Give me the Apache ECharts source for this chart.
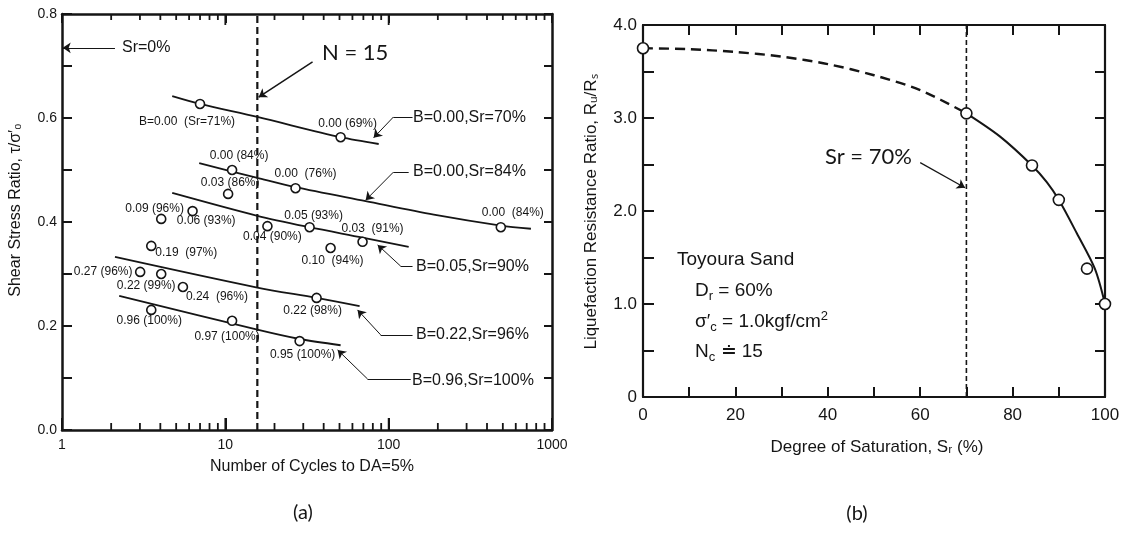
<!DOCTYPE html>
<html>
<head>
<meta charset="utf-8">
<script src="https://cdn.jsdelivr.net/npm/echarts@6/dist/echarts.min.js"></script>
<style>
  html, body { margin: 0; background: #fff; }
  #chart { width: 1123px; height: 533px; }
</style>
</head>
<body>
<div id="chart"></div>
<script>
// ---- panel (a): test points (N cycles, stress ratio) and their tags
const cycN  = [7.0, 50.8, 11.0, 26.9, 486, 10.4, 6.3, 4.05, 18.1, 32.8, 69.2, 44.1, 3.52, 3.01, 4.05, 5.5, 36.2, 3.52, 11.0, 28.5];
const ratio = [0.627, 0.563, 0.500, 0.465, 0.390, 0.454, 0.421, 0.406, 0.392, 0.390, 0.362, 0.350, 0.354, 0.304, 0.300, 0.275, 0.254, 0.231, 0.210, 0.171];
const ptText = ['B=0.00  (Sr=71%)', '0.00 (69%)', '0.00 (84%)', '0.00  (76%)', '0.00  (84%)', '0.03 (86%)',
  '0.09 (96%)', '0.06 (93%)', '0.04 (90%)', '0.05 (93%)', '0.03  (91%)', '0.10  (94%)', '0.19  (97%)',
  '0.27 (96%)', '0.22 (99%)', '0.24  (96%)', '0.22 (98%)', '0.96 (100%)', '0.97 (100%)', '0.95 (100%)'];
// label offsets from each circle (px)
const ptOffset = [[-13, 18], [7, -14], [7, -14], [10, -15], [12, -15], [2, -11], [-38, -2], [45, 2], [5, 11], [4, -12],
  [10, -13], [2, 13], [35, 7], [-37, 0], [-15, 12], [34, 10], [-4, 13], [-2, 11], [-5, 16], [3, 14]];

// fitted curves (a)
const fit70N  = [4.73, 7.0, 15.7, 50.8, 86.9];
const fit70R  = [0.642, 0.627, 0.602, 0.563, 0.550];
const fit84N  = [6.92, 15.7, 26.9, 72.3, 189, 486, 743];
const fit84R  = [0.513, 0.485, 0.467, 0.440, 0.414, 0.393, 0.387];
const fit90N  = [4.73, 15.7, 32.8, 69.2, 132.6];
const fit90R  = [0.456, 0.412, 0.390, 0.370, 0.352];
const fit96N  = [2.11, 15.7, 36.2, 66.4];
const fit96R  = [0.333, 0.274, 0.254, 0.238];
const fit100N = [2.24, 15.7, 28.5, 50.8];
const fit100R = [0.258, 0.193, 0.175, 0.163];
const nLine = 15.7;
const logMajor = [10, 100];
const logMinor = [2, 3, 4, 5, 6, 7, 8, 9, 20, 30, 40, 50, 60, 70, 80, 90, 200, 300, 400, 500, 600, 700, 800, 900];

// ---- panel (b): degree of saturation vs resistance ratio
const satPts  = [0, 70, 84.2, 90, 96.1, 100];
const rrPts   = [3.75, 3.05, 2.49, 2.12, 1.38, 1.0];
const dashSat = [0, 10, 20, 30, 40, 50, 60, 70];
const dashRR  = [3.75, 3.74, 3.71, 3.66, 3.58, 3.46, 3.30, 3.05];
const solSat  = [70, 77.3, 84.2, 87.4, 90, 93.9, 97.8, 100];
const solRR   = [3.05, 2.80, 2.49, 2.31, 2.12, 1.76, 1.38, 1.0];
const srLine  = 70;

const INK = '#151515';
const FONT = '"Liberation Sans", Arial, sans-serif';
const CAL = 'Lato, "Open Sans", sans-serif';

const zip = (a, b) => a.map((v, i) => [v, b[i]]);

// leader lines, in data coords: [from, to, arrowhead?, width]
const leadA = [
  [[34.2, 0.708], [16.0, 0.640], true, 1.5],
  [[2.11, 0.735], [1.01, 0.735], true, 1.2],
  [[107, 0.602], [80.9, 0.562], true], [[107, 0.602], [140, 0.602], false],
  [[107, 0.496], [72.3, 0.442], true], [[107, 0.496], [132.6, 0.496], false],
  [[118.5, 0.315], [85.6, 0.356], true], [[118.5, 0.315], [140, 0.315], false],
  [[89.3, 0.183], [64.5, 0.231], true], [[89.3, 0.183], [140, 0.183], false],
  [[74.3, 0.098], [48.7, 0.154], true], [[74.3, 0.098], [136.5, 0.098], false]
];
const leadB = [[[60.0, 2.52], [69.7, 2.25], true, 1.2]];

function segs(list) {
  return list.map(([a, b, arrow, w]) => {
    const ls = { color: INK, width: w || 1, type: 'solid' };
    return [
      { coord: a, symbol: 'none', lineStyle: ls },
      { coord: b, symbol: arrow ? 'arrow' : 'none', symbolSize: 8, lineStyle: ls }
    ];
  });
}

const myChart = echarts.init(document.getElementById('chart'));

const axLine = w => ({ show: true, onZero: false, lineStyle: { color: INK, width: w } });
const tick = len => ({ show: true, inside: true, length: len, lineStyle: { color: INK, width: 2 } });
const curve = (n, r) => ({
  type: 'line', xAxisIndex: 0, yAxisIndex: 0, data: zip(n, r), symbol: 'none', smooth: 0.3,
  lineStyle: { color: INK, width: 1.8 }, silent: true, z: 3
});
const txt = (x, y, text, size, fam, extra) => ({
  type: 'text', x: x, y: y, z: 50,
  style: Object.assign({ text: text, fontSize: size, fontFamily: fam || FONT, fill: INK, verticalAlign: 'middle' }, extra || {})
});

const labels = [
  // panel (a)
  txt(122, 48, 'Sr=0%', 16),
  txt(322, 53, 'N = 15', 22, CAL),
  txt(413, 118, 'B=0.00,Sr=70%', 16),
  txt(413, 172, 'B=0.00,Sr=84%', 16),
  txt(416, 267, 'B=0.05,Sr=90%', 16),
  txt(416, 335, 'B=0.22,Sr=96%', 16),
  txt(412, 381, 'B=0.96,Sr=100%', 16),
  txt(312, 467, 'Number of Cycles to DA=5%', 16, FONT, { align: 'center' }),
  Object.assign(txt(16, 210, 'Shear Stress Ratio, τ/σ′₀', 16, FONT, { align: 'center' }), { rotation: Math.PI / 2 }),
  txt(303, 513, '(a)', 20, CAL, { align: 'center' }),
  // panel (b)
  txt(825, 157, 'Sr = 70%', 22, CAL),
  txt(677, 260, 'Toyoura Sand', 19),
  txt(695, 291, '{t|D}{s|r}{t| = 60%}', 19, FONT, {
    rich: { t: { fontSize: 19, fontFamily: FONT, lineHeight: 24 }, s: { fontSize: 13, fontFamily: FONT, verticalAlign: 'bottom' } } }),
  txt(695, 322, '{t|σ′}{s|c}{t| = 1.0kgf/cm}{p|2}', 19, FONT, {
    rich: { t: { fontSize: 19, fontFamily: FONT, lineHeight: 24 }, s: { fontSize: 13, fontFamily: FONT, verticalAlign: 'bottom' },
      p: { fontSize: 13, fontFamily: FONT, verticalAlign: 'top' } } }),
  txt(695, 352, '{t|N}{s|c}{t| ≐ 15}', 19, FONT, {
    rich: { t: { fontSize: 19, fontFamily: FONT, lineHeight: 24 }, s: { fontSize: 13, fontFamily: FONT, verticalAlign: 'bottom' } } }),
  txt(877, 447, 'Degree of Saturation, Sᵣ (%)', 17, FONT, { align: 'center' }),
  Object.assign(txt(591, 212, 'Liquefaction Resistance Ratio, Rᵤ/Rₛ', 17, FONT, { align: 'center' }), { rotation: Math.PI / 2 }),
  txt(857, 514, '(b)', 20, CAL, { align: 'center' })
];

myChart.setOption({
  animation: false,
  backgroundColor: '#fff',
  grid: [
    { left: 62, top: 14, width: 490, height: 416 },
    { left: 643, top: 25, width: 462, height: 372 }
  ],
  xAxis: [
    { gridIndex: 0, type: 'log', logBase: 10, min: 1, max: 1000, axisLine: axLine(2.5), axisTick: tick(12),
      axisLabel: { color: INK, fontSize: 14, fontFamily: FONT, margin: 8, formatter: v => String(v) },
      splitLine: { show: false } },
    { gridIndex: 0, type: 'log', logBase: 10, min: 1, max: 1000, position: 'top', axisLine: axLine(2.5), axisTick: tick(9),
      axisLabel: { show: false }, splitLine: { show: false } },
    { gridIndex: 1, type: 'value', min: 0, max: 100, interval: 10, axisLine: axLine(2.2), axisTick: tick(10),
      axisLabel: { color: INK, fontSize: 17, fontFamily: FONT, margin: 10, formatter: v => (v % 20 === 0 ? String(v) : '') },
      splitLine: { show: false } },
    { gridIndex: 1, type: 'value', min: 0, max: 100, interval: 10, position: 'top', axisLine: axLine(2.2), axisTick: tick(10),
      axisLabel: { show: false }, splitLine: { show: false } }
  ],
  yAxis: [
    { gridIndex: 0, type: 'value', min: 0, max: 0.8, interval: 0.1, axisLine: axLine(2.5),
      axisTick: tick(10),
      axisLabel: { color: INK, fontSize: 14, fontFamily: FONT, margin: 5,
        formatter: v => (Math.round(v * 10) % 2 === 0 ? v.toFixed(1) : '') },
      splitLine: { show: false } },
    { gridIndex: 0, type: 'value', min: 0, max: 0.8, interval: 0.1, position: 'right', axisLine: axLine(2.5), axisTick: tick(8),
      axisLabel: { show: false }, splitLine: { show: false } },
    { gridIndex: 1, type: 'value', min: 0, max: 4, interval: 0.5, axisLine: axLine(2.2), axisTick: tick(11),
      axisLabel: { color: INK, fontSize: 17, fontFamily: FONT, margin: 6,
        formatter: v => (Math.abs(v - Math.round(v)) < 1e-6 ? (v === 0 ? '0' : v.toFixed(1)) : '') },
      splitLine: { show: false } },
    { gridIndex: 1, type: 'value', min: 0, max: 4, interval: 0.5, position: 'right', axisLine: axLine(2.2), axisTick: tick(10),
      axisLabel: { show: false }, splitLine: { show: false } }
  ],
  series: [
    curve(fit70N, fit70R), curve(fit84N, fit84R), curve(fit90N, fit90R),
    curve(fit96N, fit96R), curve(fit100N, fit100R),
    {
      type: 'line', xAxisIndex: 0, yAxisIndex: 0, data: [[nLine, 0], [nLine, 0.8]],
      symbol: 'none', silent: true, z: 2,
      lineStyle: { color: INK, width: 2.2, type: [7, 4] },
      markLine: { silent: true, symbol: ['none', 'none'], label: { show: false }, emphasis: { disabled: true },
        data: segs(leadA) }
    },
    {
      type: 'scatter', xAxisIndex: 0, yAxisIndex: 0, symbol: 'circle', symbolSize: 9, z: 6, silent: true,
      itemStyle: { color: '#fff', borderColor: INK, borderWidth: 1.6, opacity: 1 },
      data: cycN.map((n, i) => ({
        value: [n, ratio[i]],
        label: { show: true, position: 'inside', formatter: ptText[i], offset: ptOffset[i],
          color: INK, fontSize: 12, fontFamily: FONT }
      }))
    },
    // panel (b)
    {
      type: 'line', xAxisIndex: 2, yAxisIndex: 2, data: zip(dashSat, dashRR), symbol: 'none', smooth: 0.3, silent: true,
      lineStyle: { color: INK, width: 2.4, type: [10, 6] }, z: 3
    },
    {
      type: 'line', xAxisIndex: 2, yAxisIndex: 2, data: zip(solSat, solRR), symbol: 'none', smooth: 0.3, silent: true,
      lineStyle: { color: INK, width: 2 }, z: 3
    },
    {
      type: 'line', xAxisIndex: 2, yAxisIndex: 2, data: [[srLine, 0], [srLine, 4]], symbol: 'none', silent: true,
      lineStyle: { color: INK, width: 1.6, type: [5, 3] }, z: 2,
      markLine: { silent: true, symbol: ['none', 'none'], label: { show: false }, emphasis: { disabled: true },
        data: segs(leadB) }
    },
    {
      type: 'scatter', xAxisIndex: 2, yAxisIndex: 2, symbol: 'circle', symbolSize: 11, z: 6, silent: true, clip: false,
      itemStyle: { color: '#fff', borderColor: INK, borderWidth: 1.6, opacity: 1 },
      data: zip(satPts, rrPts)
    }
  ],
  graphic: labels
});

// log-axis tick marks on bottom and top frame of panel (a), placed via the chart's own scale
const frameTicks = [];
const addTick = (n, len) => {
  const b = myChart.convertToPixel({ gridIndex: 0 }, [n, 0]);
  const t = myChart.convertToPixel({ gridIndex: 0 }, [n, 0.8]);
  if (!b || !t) return;
  frameTicks.push({ type: 'line', z: 60, silent: true, shape: { x1: b[0], y1: b[1], x2: b[0], y2: b[1] - len },
    style: { stroke: INK, lineWidth: 1.8 } });
  frameTicks.push({ type: 'line', z: 60, silent: true, shape: { x1: t[0], y1: t[1], x2: t[0], y2: t[1] + len - 1 },
    style: { stroke: INK, lineWidth: 1.8 } });
};
logMinor.forEach(n => addTick(n, 7));
logMajor.forEach(n => addTick(n, 12));
myChart.setOption({ graphic: labels.concat(frameTicks) });
</script>
</body>
</html>
